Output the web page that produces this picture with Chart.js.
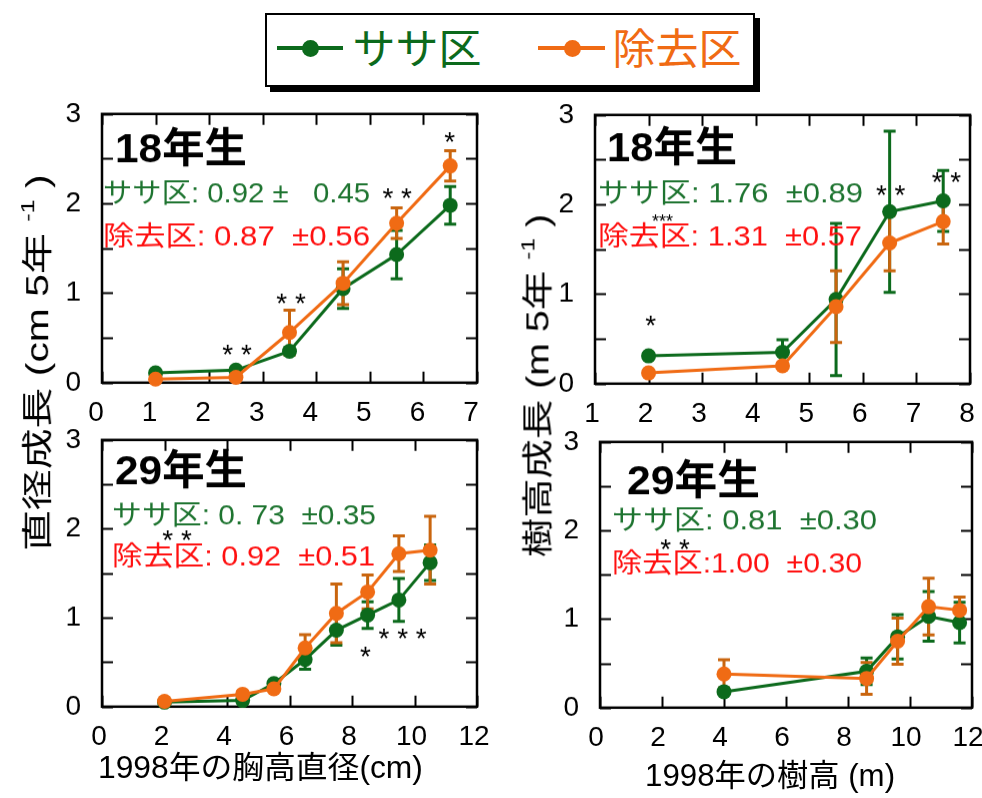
<!DOCTYPE html>
<html lang="ja">
<head>
<meta charset="utf-8">
<title>ササ区と除去区の成長比較</title>
<script src="https://cdn.jsdelivr.net/npm/chart.js@4/dist/chart.umd.min.js"></script>
<style>
  html, body { margin: 0; padding: 0; background: #fff; }
  body { width: 982px; height: 798px; position: relative; overflow: hidden;
         font-family: "Liberation Sans", "Noto Sans CJK JP", sans-serif; }
  canvas.panel { position: absolute; }
  .txt { position: absolute; white-space: nowrap; line-height: 1; }
  .ytitle sup { font-size: 0.62em; vertical-align: 0.75em; }
  #legendBox { position: absolute; left: 265px; top: 13px; width: 486px; height: 70px;
               border: 2px solid #000; box-shadow: 5px 5px 0 #000; background: #fff; }
  .swLine { position: absolute; height: 4px; }
  .swDot { position: absolute; width: 17px; height: 17px; border-radius: 50%; }
</style>
</head>
<body>

<div id="legendBox"></div>
<div class="swLine" style="left:277px;top:46px;width:66px;background:#0c6a1c"></div>
<div class="swDot" style="left:302px;top:40px;background:#0c6a1c"></div>
<div class="txt fit" data-w="129" data-cx="417" data-cy="50" style="font-size:42px;color:#0c6a1c">ササ区</div>
<div class="swLine" style="left:538px;top:46px;width:67px;background:#f06b14"></div>
<div class="swDot" style="left:564px;top:40px;background:#f06b14"></div>
<div class="txt fit" data-w="129" data-cx="677" data-cy="50" style="font-size:42px;color:#f06b14">除去区</div>

<canvas class="panel" id="c1"></canvas>
<canvas class="panel" id="c2"></canvas>
<canvas class="panel" id="c3"></canvas>
<canvas class="panel" id="c4"></canvas>

<div class="txt fit ytitle" data-w="377" data-cx="36" data-cy="362" data-rot="1" style="font-size:31px">直径成長 (cm 5年 <sup>-1</sup> )</div>
<div class="txt fit ytitle" data-w="343" data-cx="536" data-cy="385" data-rot="1" style="font-size:31px">樹高成長 (m 5年 <sup>-1</sup> )</div>
<div class="txt fit" data-w="325" data-cx="260" data-cy="767" style="font-size:31px">1998年の胸高直径(cm)</div>
<div class="txt fit" data-w="250" data-cx="770" data-cy="775" style="font-size:31px">1998年の樹高 (m)</div>

<script>
// ---- 胸高直径クラス別の直径成長（18年生） ----
const dbhX18       = [1.0, 2.5, 3.5, 4.5, 5.5, 6.5];
const dbhSasa18    = [0.11, 0.14, 0.35, 1.05, 1.43, 1.98];
const dbhSasa18Err = [0.02, 0.02, 0.04, 0.22, 0.27, 0.21];
const dbhCut18     = [0.04, 0.06, 0.56, 1.11, 1.78, 2.42];
const dbhCut18Err  = [0.02, 0.02, 0.25, 0.24, 0.17, 0.17];

// ---- 樹高クラス別の樹高成長（18年生） ----
const htX18        = [2.0, 4.5, 5.5, 6.5, 7.5];
const htSasa18     = [0.31, 0.35, 0.94, 1.92, 2.04];
const htSasa18Err  = [0.03, 0.14, 0.85, 0.90, 0.34];
const htCut18      = [0.12, 0.20, 0.86, 1.57, 1.81];
const htCut18Err   = [0.02, 0.03, 0.40, 0.31, 0.25];

// ---- 胸高直径クラス別の直径成長（29年生） ----
const dbhX29       = [2.0, 4.5, 5.5, 6.5, 7.5, 8.5, 9.5, 10.5];
const dbhSasa29    = [0.05, 0.07, 0.26, 0.53, 0.86, 1.03, 1.20, 1.62];
const dbhSasa29Err = [0.02, 0.03, 0.03, 0.11, 0.17, 0.15, 0.24, 0.20];
const dbhCut29     = [0.06, 0.14, 0.20, 0.66, 1.05, 1.29, 1.72, 1.76];
const dbhCut29Err  = [0.02, 0.03, 0.03, 0.15, 0.33, 0.19, 0.20, 0.38];

// ---- 樹高クラス別の樹高成長（29年生） ----
const htX29        = [4.0, 8.6, 9.6, 10.6, 11.6];
const htSasa29     = [0.18, 0.41, 0.80, 1.03, 0.96];
const htSasa29Err  = [0.02, 0.15, 0.25, 0.28, 0.23];
const htCut29      = [0.38, 0.33, 0.75, 1.14, 1.10];
const htCut29Err   = [0.16, 0.18, 0.26, 0.32, 0.15];

// ---- 有意差の記号（x, y, 記号） ----
const sig1X = [2.52, 3.53, 5.51, 6.49];
const sig1Y = [0.39, 0.96, 2.14, 2.76];
const sig1T = ['* *', '* *', '* *', '*'];
const sig2X = [2.04, 2.26, 6.52, 7.56];
const sig2Y = [0.73, 1.86, 2.18, 2.33];
const sig2T = ['*', '***', '* *', '* *'];
const sig3X = [2.40, 8.43, 9.62];
const sig3Y = [1.95, 0.64, 0.85];
const sig3T = ['* *', '*', '* * *'];
const sig4X = [2.42];
const sig4Y = [1.87];
const sig4T = ['* *'];

// ---- 平均値±SD の表示文 ----
const stats1 = ['ササ区: 0.92 ±   0.45', '除去区: 0.87  ±0.56'];
const stats2 = ['ササ区: 1.76  ±0.89', '除去区: 1.31  ±0.57'];
const stats3 = ['ササ区: 0. 73  ±0.35', '除去区: 0.92  ±0.51'];
const stats4 = ['ササ区: 0.81  ±0.30', '除去区:1.00  ±0.30'];
const ageLabels = ['18年生', '18年生', '29年生', '29年生'];

const GREEN = '#0c6a1c', ORANGE = '#f06b14', ORANGE_BAR = '#c9650e';
const TXT_GREEN = '#1e7430', TXT_RED = '#ff1010';
const FONT = '"Liberation Sans", "Noto Sans CJK JP", sans-serif';

function pts(xs, ys) { return xs.map((x, i) => ({ x: x, y: ys[i] })); }

function drawFit(ctx, text, x, yMid, w, font, color) {
  ctx.save();
  ctx.font = font;
  ctx.fillStyle = color;
  ctx.textBaseline = 'middle';
  ctx.textAlign = 'left';
  const m = ctx.measureText(text).width;
  ctx.translate(x, yMid);
  ctx.scale(w / m, 1);
  ctx.fillText(text, 0, 0);
  ctx.restore();
}

// frame, inward ticks and error bars beneath the series
const framePlugin = {
  id: 'frameAndErrors',
  beforeDatasetsDraw(chart) {
    const { ctx, chartArea: a, scales: { x, y } } = chart;
    ctx.save();
    ctx.strokeStyle = '#000';
    ctx.lineWidth = 2;
    const tl = 11;
    x.ticks.forEach(t => {
      const px = Math.round(x.getPixelForValue(t.value)) + 0.5;
      ctx.beginPath();
      ctx.moveTo(px, a.bottom); ctx.lineTo(px, a.bottom - tl);
      ctx.moveTo(px, a.top); ctx.lineTo(px, a.top + tl);
      ctx.stroke();
    });
    y.ticks.forEach(t => {
      const py = Math.round(y.getPixelForValue(t.value)) + 0.5;
      ctx.beginPath();
      ctx.moveTo(a.left, py); ctx.lineTo(a.left + tl, py);
      ctx.moveTo(a.right, py); ctx.lineTo(a.right - tl, py);
      ctx.stroke();
    });
    ctx.lineWidth = 2.5;
    ctx.strokeRect(a.left, a.top, a.right - a.left, a.bottom - a.top);

    chart.data.datasets.forEach((ds, di) => {
      const meta = chart.getDatasetMeta(di);
      ctx.strokeStyle = ds.errColor;
      ctx.lineWidth = 3;
      meta.data.forEach((el, i) => {
        const v = ds.data[i].y, e = ds.errors[i];
        const y0 = y.getPixelForValue(v - e), y1 = y.getPixelForValue(v + e);
        ctx.beginPath();
        ctx.moveTo(el.x, y0); ctx.lineTo(el.x, y1);
        ctx.moveTo(el.x - 6, y0); ctx.lineTo(el.x + 6, y0);
        ctx.moveTo(el.x - 6, y1); ctx.lineTo(el.x + 6, y1);
        ctx.stroke();
      });
    });
    ctx.restore();
  }
};

// panel heading, mean ± SD text and significance marks
const notesPlugin = {
  id: 'notes',
  afterDatasetsDraw(chart) {
    const o = chart.options.plugins.notes;
    const { ctx, chartArea: a, scales: { x, y } } = chart;
    drawFit(ctx, o.age, a.left + o.ageDx, a.top + o.ageDy, o.ageW, 'bold 41px ' + FONT, '#000');
    drawFit(ctx, o.stats[0], a.left + o.sDx, a.top + o.sDy1, o.sW1, '27px ' + FONT, TXT_GREEN);
    drawFit(ctx, o.stats[1], a.left + o.sDx, a.top + o.sDy2, o.sW2, '27px ' + FONT, TXT_RED);
    ctx.save();
    ctx.fillStyle = '#000';
    ctx.textAlign = 'center';
    ctx.textBaseline = 'alphabetic';
    o.sigX.forEach((sx, i) => {
      const small = o.sigT[i] === '***';
      const size = small ? 18 : 28;
      ctx.font = size + 'px "Liberation Sans", sans-serif';
      ctx.fillText(o.sigT[i], x.getPixelForValue(sx), y.getPixelForValue(o.sigY[i]) + 0.58 * size);
    });
    ctx.restore();
  }
};

function makePanel(id, area, xr, series, notes) {
  const padT = 16, padR = 22, padB = 2, yW = 50, xH = 52;
  const cv = document.getElementById(id);
  let W = (area.R - area.L) + yW + padR;
  let H = (area.B - area.T) + padT + xH + padB;
  cv.width = W; cv.height = H;
  cv.style.width = W + 'px'; cv.style.height = H + 'px';

  const tickFont = { family: '"Liberation Sans", sans-serif', size: 28 };
  const mk = (label, xs, ys, errs, color, errColor, order) => ({
    label: label, data: pts(xs, ys), errors: errs, errColor: errColor,
    borderColor: color, backgroundColor: color, pointBackgroundColor: color,
    pointBorderColor: color, pointBorderWidth: 0, pointRadius: 7.5,
    borderWidth: 3, tension: 0, clip: false, order: order
  });

  const chart = new Chart(cv, {
    type: 'line',
    data: {
      datasets: [
        mk('ササ区', series.x, series.sasa, series.sasaErr, GREEN, GREEN, 1),
        mk('除去区', series.x, series.cut, series.cutErr, ORANGE, ORANGE_BAR, 0)
      ]
    },
    options: {
      responsive: false, maintainAspectRatio: false, animation: false, devicePixelRatio: 1,
      layout: { padding: { left: 0, top: padT, right: padR, bottom: padB } },
      plugins: { legend: { display: false }, tooltip: { enabled: false }, notes: notes },
      scales: {
        x: {
          type: 'linear', min: xr.min, max: xr.max,
          grid: { display: false }, border: { display: false },
          ticks: { stepSize: xr.step, autoSkip: false, maxRotation: 0, color: '#000',
                   font: tickFont, padding: 6, labelOffset: xr.off },
          afterFit(s) { s.height = xH; }
        },
        y: {
          min: 0, max: 3,
          grid: { display: false }, border: { display: false },
          ticks: { stepSize: 0.5, autoSkip: false, color: '#000', font: tickFont, padding: 13,
                   callback: v => (Number.isInteger(v) ? String(v) : '') },
          afterFit(s) { s.width = yW; }
        }
      }
    },
    plugins: [framePlugin, notesPlugin]
  });

  // grow the canvas so the plotting area gets its intended size, then place it
  const ca = chart.chartArea;
  W += (area.R - area.L) - (ca.right - ca.left);
  H += (area.B - area.T) - (ca.bottom - ca.top);
  cv.style.width = W + 'px'; cv.style.height = H + 'px';
  chart.resize(W, H);
  const cb = chart.chartArea;
  cv.style.left = (area.L - cb.left) + 'px';
  cv.style.top = (area.T - cb.top) + 'px';
  return chart;
}

makePanel('c1', { L: 102, R: 477, T: 114, B: 382 }, { min: 0, max: 7, step: 1, off: -6 },
  { x: dbhX18, sasa: dbhSasa18, sasaErr: dbhSasa18Err, cut: dbhCut18, cutErr: dbhCut18Err },
  { age: ageLabels[0], ageDx: 13, ageDy: 37, ageW: 132, stats: stats1,
    sDx: 1, sDy1: 81, sDy2: 124, sW1: 267, sW2: 267, sigX: sig1X, sigY: sig1Y, sigT: sig1T });

makePanel('c2', { L: 595, R: 970, T: 115, B: 383 }, { min: 1, max: 8, step: 1, off: -3 },
  { x: htX18, sasa: htSasa18, sasaErr: htSasa18Err, cut: htCut18, cutErr: htCut18Err },
  { age: ageLabels[1], ageDx: 12, ageDy: 35, ageW: 130, stats: stats2,
    sDx: 3, sDy1: 80, sDy2: 123, sW1: 265, sW2: 264, sigX: sig2X, sigY: sig2Y, sigT: sig2T });

makePanel('c3', { L: 102, R: 477, T: 440, B: 706 }, { min: 0, max: 12, step: 2, off: -3 },
  { x: dbhX29, sasa: dbhSasa29, sasaErr: dbhSasa29Err, cut: dbhCut29, cutErr: dbhCut29Err },
  { age: ageLabels[2], ageDx: 13, ageDy: 33, ageW: 132, stats: stats3,
    sDx: 10, sDy1: 77, sDy2: 118, sW1: 264, sW2: 263, sigX: sig3X, sigY: sig3Y, sigT: sig3T });

makePanel('c4', { L: 600, R: 972, T: 442, B: 707 }, { min: 0, max: 12, step: 2, off: -4 },
  { x: htX29, sasa: htSasa29, sasaErr: htSasa29Err, cut: htCut29, cutErr: htCut29Err },
  { age: ageLabels[3], ageDx: 27, ageDy: 41, ageW: 133, stats: stats4,
    sDx: 12, sDy1: 80, sDy2: 123, sW1: 265, sW2: 250, sigX: sig4X, sigY: sig4Y, sigT: sig4T });

// size the free-standing captions to their widths and centre them
document.querySelectorAll('.fit').forEach(el => {
  const w = el.offsetWidth, h = el.offsetHeight;
  const k = Number(el.dataset.w) / w;
  el.style.left = (Number(el.dataset.cx) - w / 2) + 'px';
  el.style.top = (Number(el.dataset.cy) - h / 2) + 'px';
  el.style.transformOrigin = '50% 50%';
  el.style.transform = (el.dataset.rot ? 'rotate(-90deg) ' : '') + 'scaleX(' + k + ')';
});
</script>
</body>
</html>
